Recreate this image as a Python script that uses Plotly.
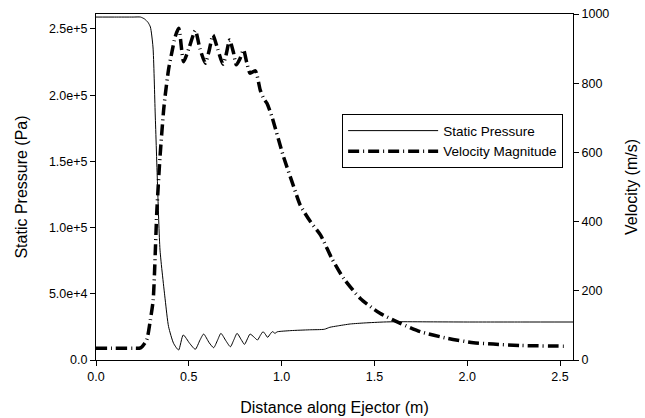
import plotly.graph_objects as go

# Static pressure along the ejector (m, Pa)
pressure_x = [0.0, 0.10, 0.20, 0.24, 0.262, 0.280, 0.293, 0.307, 0.319, 0.332, 0.345, 0.373,
              0.391, 0.418, 0.445, 0.470, 0.505, 0.535, 0.560, 0.580, 0.610, 0.634, 0.655,
              0.673, 0.700, 0.724, 0.742, 0.760, 0.782, 0.800, 0.816, 0.830, 0.850, 0.870,
              0.885, 0.900, 0.912, 0.925, 0.938, 0.950, 0.958, 0.965, 0.972, 0.980, 1.05,
              1.15, 1.23, 1.26, 1.30, 1.37, 1.45, 1.55, 1.62, 1.80, 2.00, 2.30, 2.57]
pressure_pa = [259000, 259000, 259000, 259000, 257500, 255000, 251500, 236400, 185800, 130000,
               83000, 45300, 25200, 12600, 7550, 18900, 12500, 8080, 15000, 19600, 13000, 9300,
               15000, 20100, 14500, 10000, 15000, 20100, 15500, 11800, 16000, 19600, 17500,
               15100, 18500, 21400, 19500, 17100, 19500, 21400, 20800, 20000, 21000, 21400,
               22200, 22800, 23200, 24700, 25700, 27200, 28000, 28700, 28900, 28800, 28700,
               28700, 28700]

# Velocity magnitude along the ejector (m, m/s)
velocity_x = [0.0, 0.10, 0.20, 0.24, 0.273, 0.293, 0.308, 0.328, 0.345, 0.364, 0.372, 0.391,
              0.409, 0.427, 0.446, 0.472, 0.500, 0.535, 0.560, 0.589, 0.610, 0.630, 0.655,
              0.684, 0.700, 0.720, 0.740, 0.756, 0.775, 0.795, 0.812, 0.830, 0.858, 0.885,
              0.903, 0.921, 0.948, 1.01, 1.065, 1.10, 1.155, 1.21, 1.27, 1.334, 1.424, 1.53,
              1.64, 1.747, 1.89, 2.034, 2.14, 2.286, 2.52]
velocity_ms = [34, 34, 34, 35, 58, 116, 173, 433, 588, 720, 761, 840, 890, 935, 959, 862, 900,
               952, 900, 858, 895, 939, 900, 855, 880, 925, 890, 853, 870, 896, 860, 829, 836,
               780, 756, 742, 703, 588, 501, 448, 400, 361, 294, 236, 178, 135, 106, 82, 63,
               50, 46, 42, 40]

x_ticks = [0.0, 0.5, 1.0, 1.5, 2.0, 2.5]
x_tick_text = ["0.0", "0.5", "1.0", "1.5", "2.0", "2.5"]
p_ticks = [0, 50000, 100000, 150000, 200000, 250000]
p_tick_text = ["0.0", "5.0e+4", "1.0e+5", "1.5e+5", "2.0e+5", "2.5e+5"]
v_ticks = [0, 200, 400, 600, 800, 1000]
v_tick_text = ["0", "200", "400", "600", "800", "1000"]

FONT = "Liberation Sans, Arial, sans-serif"

fig = go.Figure()

fig.add_trace(go.Scatter(
    x=pressure_x, y=pressure_pa,
    mode="lines",
    line=dict(color="black", width=1, shape="spline", smoothing=0.6),
    name="Static Pressure",
))

fig.add_trace(go.Scatter(
    x=velocity_x, y=velocity_ms,
    mode="lines",
    line=dict(color="black", width=3.5, dash="11px,4px,1px,4px", shape="spline", smoothing=0.6),
    name="Velocity Magnitude",
    yaxis="y2",
))

axis_common = dict(
    showline=True, linecolor="black", linewidth=1,
    ticks="outside", ticklen=5, tickcolor="black",
    showgrid=False, zeroline=False,
    automargin=False,      # keep the plot box fixed; titles sit inside the margins
    tickfont=dict(size=12.5, color="black"),
)

fig.update_layout(
    width=645, height=418,
    font=dict(family=FONT, color="black"),
    paper_bgcolor="white", plot_bgcolor="white",
    margin=dict(l=96, r=72, t=14, b=58),
    xaxis=dict(
        axis_common,
        range=[0, 2.57],
        tickvals=x_ticks, ticktext=x_tick_text,
        mirror=True,
        title=dict(text="Distance along Ejector (m)", font=dict(size=16), standoff=18),
    ),
    yaxis=dict(
        axis_common,
        range=[0, 261300],
        tickvals=p_ticks, ticktext=p_tick_text,
        title=dict(text="Static Pressure (Pa)", font=dict(size=16), standoff=17),
    ),
    yaxis2=dict(
        axis_common,
        range=[0, 1000],
        tickvals=v_ticks, ticktext=v_tick_text,
        overlaying="y", side="right",
        title=dict(text="Velocity (m/s)", font=dict(size=16), standoff=17),
    ),
    legend=dict(
        x=0.516, y=0.71, xanchor="left", yanchor="top",
        bordercolor="black", borderwidth=1,
        bgcolor="white",
        font=dict(size=13.5),
        itemwidth=90,
        tracegroupgap=0,
    ),
    showlegend=True,
)

# the page body has a default 8px margin; drop it so the figure sits at the window origin
fig.write_html("out.html", config={"displayModeBar": False},
               post_script="document.body.style.margin='0';")
